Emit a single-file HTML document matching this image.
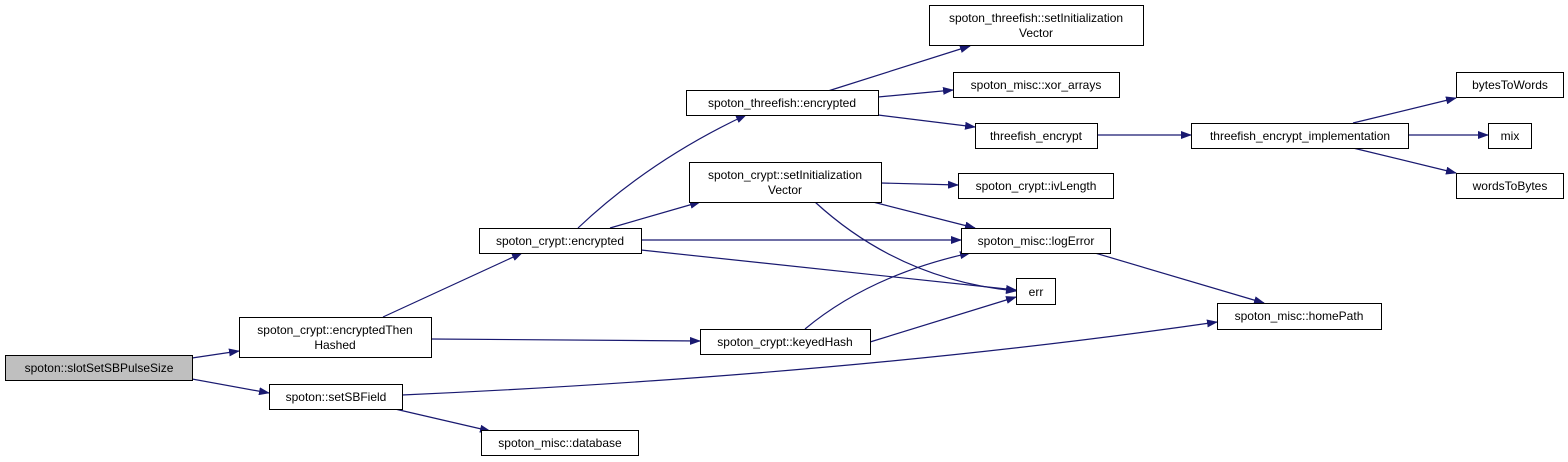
<!DOCTYPE html>
<html><head><meta charset="utf-8"><style>
html,body{margin:0;padding:0;background:#fff;}
svg{display:block;}
text{font-family:"Liberation Sans",sans-serif;font-size:12px;fill:#000;}
</style></head><body>
<svg width="1568" height="462" viewBox="0 0 1568 462" xmlns="http://www.w3.org/2000/svg">
<defs>
<marker id="a" markerWidth="11" markerHeight="8" refX="10" refY="4" orient="auto" markerUnits="userSpaceOnUse">
<path d="M0,0 L11,4 L0,8 Z" fill="#191970"/>
</marker>
</defs>
<g fill="none" stroke="#191970" stroke-width="1.2" marker-end="url(#a)">
<path d="M192,358 L239,351"/>
<path d="M192,379 L269,393"/>
<path d="M383,317 L522,253"/>
<path d="M431,339 L700,341"/>
<path d="M402,395 Q850,375 1217,322"/>
<path d="M395,409 L490,431"/>
<path d="M578,228 Q650,160 746,115"/>
<path d="M610,228 L700,202"/>
<path d="M641,240 L961,240"/>
<path d="M641,250 L1016,290"/>
<path d="M881,183 L958,185"/>
<path d="M873,202 L975,228"/>
<path d="M815,202 Q900,280 1016,291"/>
<path d="M805,329 Q870,275 970,253"/>
<path d="M870,342 L1016,297"/>
<path d="M828,91 L970,46"/>
<path d="M878,97 L953,90"/>
<path d="M878,115 L975,127"/>
<path d="M1097,135 L1191,135"/>
<path d="M1353,123 L1456,98"/>
<path d="M1408,135 L1488,135"/>
<path d="M1353,148 L1456,173"/>
<path d="M1095,253 L1264,303"/>
</g>
<g stroke="#000" stroke-width="1">
<rect x="5.5" y="355.5" width="187" height="25" fill="#bfbfbf"/>
<rect x="239.5" y="317.5" width="192" height="40" fill="#fff"/>
<rect x="269.5" y="384.5" width="133" height="25" fill="#fff"/>
<rect x="479.5" y="228.5" width="162" height="25" fill="#fff"/>
<rect x="481.5" y="430.5" width="157" height="25" fill="#fff"/>
<rect x="689.5" y="162.5" width="192" height="40" fill="#fff"/>
<rect x="700.5" y="329.5" width="170" height="25" fill="#fff"/>
<rect x="686.5" y="90.5" width="192" height="25" fill="#fff"/>
<rect x="929.5" y="5.5" width="214" height="40" fill="#fff"/>
<rect x="953.5" y="72.5" width="166" height="25" fill="#fff"/>
<rect x="975.5" y="123.5" width="122" height="25" fill="#fff"/>
<rect x="958.5" y="173.5" width="155" height="25" fill="#fff"/>
<rect x="961.5" y="228.5" width="149" height="25" fill="#fff"/>
<rect x="1016.5" y="278.5" width="39" height="26" fill="#fff"/>
<rect x="1191.5" y="123.5" width="217" height="25" fill="#fff"/>
<rect x="1217.5" y="303.5" width="164" height="26" fill="#fff"/>
<rect x="1456.5" y="72.5" width="107" height="25" fill="#fff"/>
<rect x="1488.5" y="123.5" width="43" height="25" fill="#fff"/>
<rect x="1456.5" y="173.5" width="107" height="25" fill="#fff"/>
</g>
<g text-anchor="middle">
<text x="99" y="372">spoton::slotSetSBPulseSize</text>
<text x="335" y="334">spoton_crypt::encryptedThen</text>
<text x="335" y="349">Hashed</text>
<text x="336" y="401">spoton::setSBField</text>
<text x="560" y="245">spoton_crypt::encrypted</text>
<text x="560" y="447">spoton_misc::database</text>
<text x="785" y="179">spoton_crypt::setInitialization</text>
<text x="785" y="194">Vector</text>
<text x="785" y="346">spoton_crypt::keyedHash</text>
<text x="782" y="107">spoton_threefish::encrypted</text>
<text x="1036" y="22">spoton_threefish::setInitialization</text>
<text x="1036" y="37">Vector</text>
<text x="1036" y="89">spoton_misc::xor_arrays</text>
<text x="1036" y="140">threefish_encrypt</text>
<text x="1036" y="190">spoton_crypt::ivLength</text>
<text x="1036" y="245">spoton_misc::logError</text>
<text x="1036" y="296">err</text>
<text x="1300" y="140">threefish_encrypt_implementation</text>
<text x="1299" y="320">spoton_misc::homePath</text>
<text x="1510" y="89">bytesToWords</text>
<text x="1510" y="140">mix</text>
<text x="1510" y="190">wordsToBytes</text>
</g>
</svg>
</body></html>
